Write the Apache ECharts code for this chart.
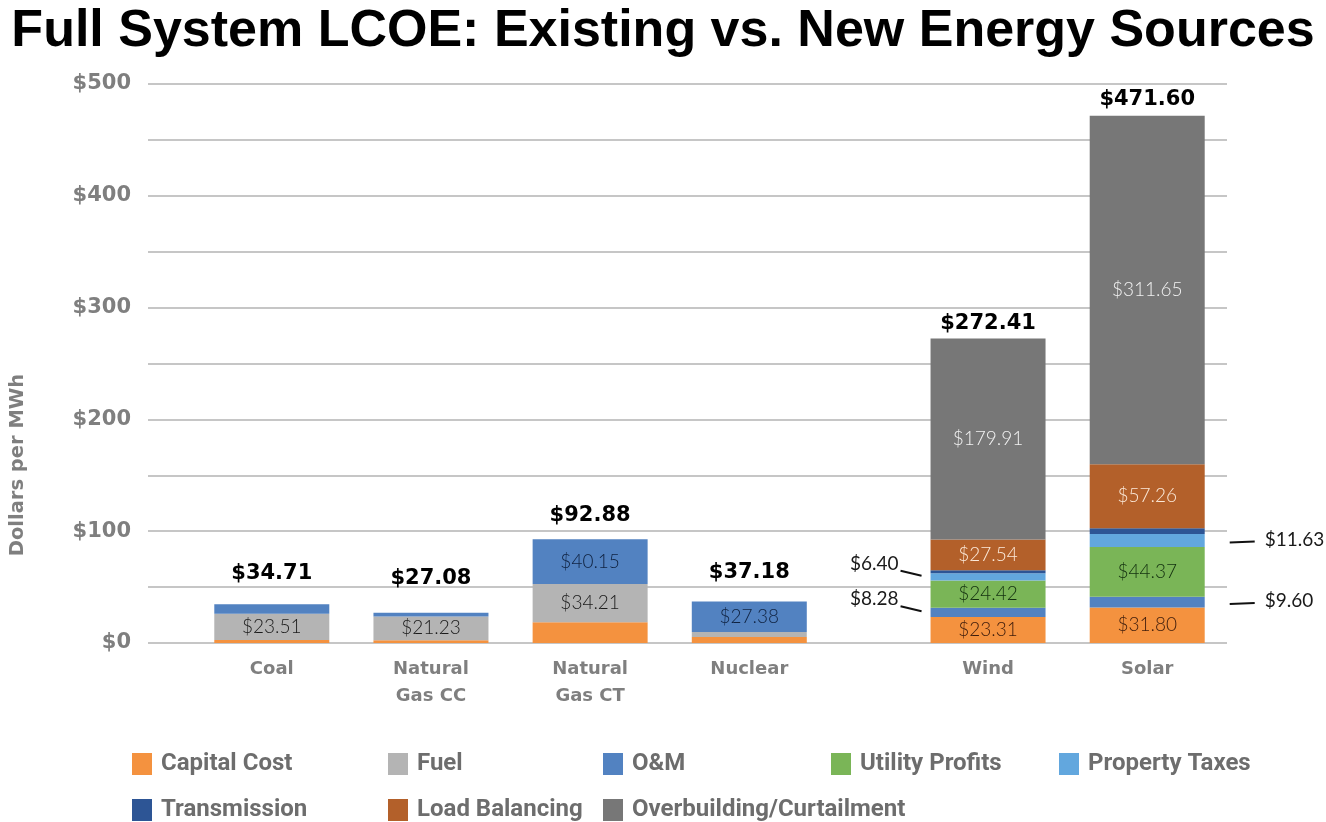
<!DOCTYPE html>
<html><head><meta charset="utf-8">
<script src="https://cdn.jsdelivr.net/npm/echarts@6/dist/echarts.min.js"></script>
<style>html,body{margin:0;padding:0;background:#fff}#c{width:1326px;height:822px}</style>
</head><body><div id="c"></div>
<script>
// ---------- DATA ----------
const categories = ['Coal', 'Natural\nGas CC', 'Natural\nGas CT', 'Nuclear', 'Wind', 'Solar'];
const capitalCost    = [2.70, 2.50, 18.52, 5.30, 23.31, 31.80];
const fuel           = [23.51, 21.23, 34.21, 4.50, 0, 0];
const oAndM          = [8.50, 3.35, 40.15, 27.38, 8.28, 9.60];
const utilityProfits = [0, 0, 0, 0, 24.42, 44.37];
const propertyTaxes  = [0, 0, 0, 0, 6.40, 11.63];
const transmission   = [0, 0, 0, 0, 2.55, 5.29];
const loadBalancing  = [0, 0, 0, 0, 27.54, 57.26];
const overbuilding   = [0, 0, 0, 0, 179.91, 311.65];
const totals         = [34.71, 27.08, 92.88, 37.18, 272.41, 471.60];
const yTickValues    = [0, 100, 200, 300, 400, 500];
const seriesNames = ['Capital Cost', 'Fuel', 'O&M', 'Utility Profits', 'Property Taxes',
                     'Transmission', 'Load Balancing', 'Overbuilding/Curtailment'];
const seriesValues = [capitalCost, fuel, oAndM, utilityProfits, propertyTaxes,
                      transmission, loadBalancing, overbuilding];
// callouts with leader lines: [category, series, side]
const callouts = [['Wind', 'Property Taxes', 'left'], ['Wind', 'O&M', 'left'],
                  ['Solar', 'Property Taxes', 'right'], ['Solar', 'O&M', 'right']];

// ---------- STYLE ----------
const colors = ['#F4923F', '#B4B4B4', '#5282C1', '#7AB557', '#62A7DE', '#2D5595', '#B3602A', '#777777'];
const insideLabelColors = ['#3d1c0c', '#1a1a1a', '#0f2240', '#13300f', '#10243a', '#ffffff', '#fbe9d9', '#f2f2f2'];
const totalLabelGap = [20, 24, 13, 18, 4, 6];
const BAR_W = 115;
const GRAY = '#7f7f7f';
const LABEL_FONT = 'DejaVu Sans';

// category slots: half-step spacing, extra gap between existing and new sources
const slotOf = i => i * 2 + (i >= 4 ? 1 : 0);
const nSlots = slotOf(categories.length - 1) + 1;
const slotLabels = new Array(nSlots).fill('');
categories.forEach((c, i) => slotLabels[slotOf(i)] = c);
const toSlots = arr => {
  const out = new Array(nSlots).fill('-');
  arr.forEach((v, i) => out[slotOf(i)] = v);
  return out;
};

const barSeries = seriesNames.map((name, si) => ({
  name, type: 'bar', stack: 'lcoe', xAxisIndex: 1, yAxisIndex: 1,
  barWidth: BAR_W, clip: false,
  itemStyle: { color: colors[si] },
  data: toSlots(seriesValues[si]).map(v => ({
    value: v,
    label: { show: v !== '-' && v >= 20 }
  })),
  label: {
    position: 'inside', color: insideLabelColors[si],
    fontFamily: 'Lato', fontWeight: 300, fontSize: 19,
    formatter: p => '$' + Number(p.value).toFixed(2)
  },
  emphasis: { disabled: true }
}));

// totals drawn as text above each stack through the axis scales
const totalSeries = {
  name: 'Total', type: 'custom', xAxisIndex: 1, yAxisIndex: 1, silent: true, clip: false,
  data: totals.map((v, i) => [slotOf(i), v, i]),
  renderItem(params, api) {
    const p = api.coord([api.value(0), api.value(1)]);
    const i = api.value(2);
    return { type: 'text', style: {
      text: '$' + Number(api.value(1)).toFixed(2), x: p[0], y: p[1] - totalLabelGap[i],
      align: 'center', verticalAlign: 'bottom',
      font: 'bold 21px "' + LABEL_FONT + '"', fill: '#000' } };
  }
};

const calloutData = callouts.map(([cat, ser]) => {
  const ci = categories.indexOf(cat);
  const si = seriesNames.indexOf(ser);
  let base = 0;
  for (let k = 0; k < si; k++) base += seriesValues[k][ci];
  return [slotOf(ci), base + seriesValues[si][ci] / 2, seriesValues[si][ci]];
});

const calloutSeries = {
  type: 'custom', xAxisIndex: 1, yAxisIndex: 1, silent: true, clip: false,
  data: calloutData,
  renderItem(params, api) {
    const side = callouts[params.dataIndex][2];
    const p = api.coord([api.value(0), api.value(1)]);
    const txt = '$' + Number(api.value(2)).toFixed(2);
    const font = 'normal 19px Lato';
    if (side === 'left') {
      const bx = p[0] - BAR_W / 2;
      return { type: 'group', children: [
        { type: 'line', shape: { x1: bx - 9, y1: p[1] - 1, x2: bx - 30, y2: p[1] - 6 },
          style: { stroke: '#111', lineWidth: 2 } },
        { type: 'text', style: { text: txt, x: bx - 32, y: p[1] - 13, align: 'right',
          verticalAlign: 'middle', font, fill: '#1a1a1a' } }
      ]};
    }
    const bx = p[0] + BAR_W / 2;
    return { type: 'group', children: [
      { type: 'line', shape: { x1: bx + 25, y1: p[1] + 2, x2: bx + 50, y2: p[1] + 1 },
        style: { stroke: '#111', lineWidth: 2 } },
      { type: 'text', style: { text: txt, x: bx + 60, y: p[1] - 1, align: 'left',
        verticalAlign: 'middle', font, fill: '#1a1a1a' } }
    ]};
  }
};

const legendCols = [[0, 5], [1, 6], [2, 7], [3], [4]];
const legendLefts = [132, 388, 603, 831, 1059];
const legends = legendCols.map((idx, k) => ({
  orient: 'vertical', left: legendLefts[k], top: 752, height: 120, padding: 0,
  itemWidth: 20, itemHeight: 22, itemGap: 22, icon: 'rect',
  selectedMode: false,
  data: idx.map(i => seriesNames[i]),
  textStyle: { color: '#6d6d6d', fontFamily: 'Roboto', fontWeight: 'bold', fontSize: 24, padding: [0, 0, 0, 4] }
}));

const option = {
  animation: false,
  backgroundColor: '#fff',
  color: colors,
  title: {
    text: 'Full System LCOE: Existing vs. New Energy Sources',
    left: 'center', top: 1,
    textStyle: { fontFamily: 'Liberation Sans', fontWeight: 'bold', fontSize: 52, color: '#000' }
  },
  legend: legends,
  grid: [
    { left: 148, right: 99, top: 84, bottom: 179 },
    { left: 232, width: 955, top: 84, bottom: 179 }
  ],
  xAxis: [
    { type: 'category', gridIndex: 0, data: [''], show: false },
    { type: 'category', gridIndex: 1, data: slotLabels,
      axisLine: { show: false }, axisTick: { show: false },
      axisLabel: { interval: 0, margin: 13, color: GRAY, fontFamily: LABEL_FONT, fontWeight: 'bold',
                   fontSize: 18, lineHeight: 27 } }
  ],
  yAxis: [
    { type: 'value', gridIndex: 0, min: 0, max: 500, interval: 50,
      axisLine: { show: false }, axisTick: { show: false },
      axisLabel: { margin: 17, color: GRAY, fontFamily: LABEL_FONT, fontWeight: 'bold', fontSize: 21,
                   formatter: v => yTickValues.includes(v) ? '$' + v : '' },
      splitLine: { lineStyle: { color: '#b3b3b3', width: 1.5 } } },
    { type: 'value', gridIndex: 1, min: 0, max: 500, interval: 50, show: false,
      splitLine: { show: false } }
  ],
  graphic: [{
    type: 'text', x: 18, y: 465, rotation: Math.PI / 2,
    style: { text: 'Dollars per MWh', align: 'center', verticalAlign: 'middle',
             font: 'bold 19.5px "DejaVu Sans"', fill: GRAY }
  }],
  series: [...barSeries, totalSeries, calloutSeries]
};

const chart = echarts.init(document.getElementById('c'), null, { renderer: 'canvas' });
chart.setOption(option);
</script></body></html>
